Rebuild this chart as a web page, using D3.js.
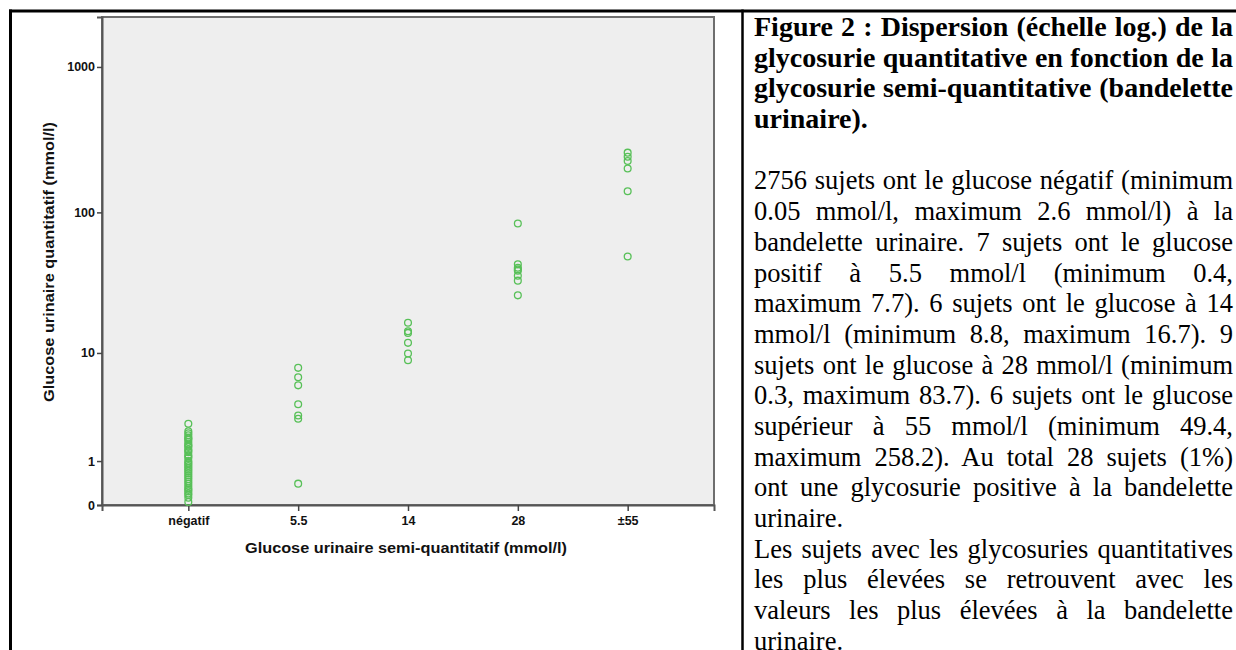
<!DOCTYPE html>
<html>
<head>
<meta charset="utf-8">
<script src="https://cdn.jsdelivr.net/npm/d3@7"></script>
<style>
	body { margin: 0; background: #fff; }
	#page { position: relative; width: 1236px; height: 650px; overflow: hidden; }
	#page svg { position: absolute; left: 0; top: 0; }
	.caption { position: absolute; left: 754px; top: 12px; width: 479px;
		font-family: "Liberation Serif", "Times New Roman", serif; font-size: 26.5px; color: #000; }
	.caption div { height: 30.7px; line-height: 30.7px; white-space: nowrap; }
	.caption .just { text-align: justify; text-align-last: justify; }
	.caption .bold { font-weight: bold; font-size: 28px; }
	.axis text { font-family: "Liberation Sans", Arial, sans-serif; font-weight: bold; }
</style>
</head>
<body>
<div id="page"></div>
<script>
// x categories (dipstick result)
const categories = ["négatif", "5.5", "14", "28", "±55"];

// quantitative glucose per category (mmol/l)
const valNegatif = [2.6, 2.2, 2.1, 2.0, 1.9, 1.85, 1.8, 1.7, 1.6, 1.55, 1.5, 1.4, 1.35, 1.3,
	1.2, 1.15, 1.1, 1.0, 0.95, 0.9, 0.85, 0.8, 0.75, 0.7, 0.65, 0.6, 0.55, 0.5, 0.45, 0.4,
	0.35, 0.3, 0.27, 0.24, 0.2, 0.17, 0.12, 0.05];
const val5_5 = [7.7, 6.5, 5.6, 3.9, 3.1, 2.9, 0.4];
const val14 = [16.7, 14.5, 14.1, 11.9, 9.9, 8.8];
const val28 = [83.7, 43.5, 41.2, 40.1, 39.2, 36.2, 33.4, 26.3];
const val55 = [258.2, 242, 226, 201, 140, 49.4];

const yTicks = [0, 1, 10, 100, 1000];
const yMax = 2200;

const xTitle = "Glucose urinaire semi-quantitatif (mmol/l)";
const yTitle = "Glucose urinaire quantitatif (mmol/l)";

const titleLines = [
	"Figure 2 : Dispersion (échelle log.) de la",
	"glycosurie quantitative en fonction de la",
	"glycosurie semi-quantitative (bandelette",
	"urinaire)."
];
const bodyLines = [
	"2756 sujets ont le glucose négatif (minimum",
	"0.05 mmol/l, maximum 2.6 mmol/l) à la",
	"bandelette urinaire. 7 sujets ont le glucose",
	"positif à 5.5 mmol/l (minimum 0.4,",
	"maximum 7.7). 6 sujets ont le glucose à 14",
	"mmol/l (minimum 8.8, maximum 16.7). 9",
	"sujets ont le glucose à 28 mmol/l (minimum",
	"0.3, maximum 83.7). 6 sujets ont le glucose",
	"supérieur à 55 mmol/l (minimum 49.4,",
	"maximum 258.2). Au total 28 sujets (1%)",
	"ont une glycosurie positive à la bandelette",
	"urinaire.",
	"Les sujets avec les glycosuries quantitatives",
	"les plus élevées se retrouvent avec les",
	"valeurs les plus élevées à la bandelette",
	"urinaire."
];
// lines that end a paragraph are not stretched
const lastLines = ["urinaire).", "urinaire."];

const series = [valNegatif, val5_5, val14, val28, val55];
const points = [];
series.forEach((vals, i) => {
	vals.forEach(v => points.push({cat: categories[i], value: v}));
});

const width = 1236, height = 650;
const plot = {left: 102, right: 714, top: 17, bottom: 505};

const page = d3.select("#page");
const svg = page.append("svg")
	.attr("width", width)
	.attr("height", height);

// table borders
svg.append("line")
	.attr("x1", 9).attr("x2", width).attr("y1", 11).attr("y2", 11)
	.attr("stroke", "#000").attr("stroke-width", 3);
svg.append("line")
	.attr("x1", 10.5).attr("x2", 10.5).attr("y1", 9.5).attr("y2", height)
	.attr("stroke", "#000").attr("stroke-width", 3);
svg.append("line")
	.attr("x1", 742.5).attr("x2", 742.5).attr("y1", 9.5).attr("y2", height)
	.attr("stroke", "#000").attr("stroke-width", 2.5);

const x = d3.scalePoint()
	.domain(categories)
	.range([plot.left, plot.right])
	.padding(0.786);

const y = d3.scaleSymlog()
	.constant(1)
	.domain([0, yMax])
	.range([plot.bottom, plot.top]);

svg.append("rect")
	.attr("x", plot.left)
	.attr("y", plot.top)
	.attr("width", plot.right - plot.left)
	.attr("height", plot.bottom - plot.top)
	.attr("fill", "#eeeeee")
	.attr("stroke", "#6e6e6e")
	.attr("stroke-width", 2);

const yAxis = svg.append("g")
	.attr("class", "axis")
	.attr("transform", "translate(" + plot.left + ",0)")
	.call(d3.axisLeft(y).tickValues(yTicks).tickFormat(d => d).tickSize(5).tickPadding(2));
yAxis.select(".domain").attr("stroke", "#555").attr("stroke-width", 2);
yAxis.selectAll(".tick line").attr("stroke", "#444").attr("stroke-width", 1.5);
yAxis.selectAll("text").attr("font-size", 12.5).attr("fill", "#111");

const xAxis = svg.append("g")
	.attr("class", "axis")
	.attr("transform", "translate(0," + plot.bottom + ")")
	.call(d3.axisBottom(x).tickSize(6).tickPadding(5));
xAxis.select(".domain").attr("stroke", "#555").attr("stroke-width", 2);
xAxis.selectAll(".tick line").attr("stroke", "#444").attr("stroke-width", 1.5);
xAxis.selectAll("text").attr("font-size", 12.5).attr("fill", "#111");

svg.append("text")
	.attr("x", 406)
	.attr("y", 553)
	.attr("text-anchor", "middle")
	.attr("font-family", "Liberation Sans, Arial, sans-serif")
	.attr("font-weight", "bold")
	.attr("font-size", 14.5)
	.attr("textLength", 322)
	.attr("lengthAdjust", "spacingAndGlyphs")
	.attr("fill", "#111")
	.text(xTitle);

svg.append("text")
	.attr("transform", "translate(54,262) rotate(-90)")
	.attr("text-anchor", "middle")
	.attr("font-family", "Liberation Sans, Arial, sans-serif")
	.attr("font-weight", "bold")
	.attr("font-size", 14.5)
	.attr("textLength", 280)
	.attr("lengthAdjust", "spacingAndGlyphs")
	.attr("fill", "#111")
	.text(yTitle);

svg.append("g")
	.selectAll("circle")
	.data(points)
	.join("circle")
	.attr("cx", d => x(d.cat))
	.attr("cy", d => y(d.value))
	.attr("r", 3.4)
	.attr("fill", "none")
	.attr("stroke", "#58c058")
	.attr("stroke-width", 1.3);

// caption to the right
const caption = page.append("div").attr("class", "caption");
titleLines.forEach(t => {
	caption.append("div")
		.attr("class", lastLines.includes(t) ? "bold" : "bold just")
		.text(t);
});
caption.append("div").html("&nbsp;");
bodyLines.forEach(t => {
	caption.append("div")
		.attr("class", lastLines.includes(t) ? "" : "just")
		.text(t);
});
</script>
</body>
</html>
